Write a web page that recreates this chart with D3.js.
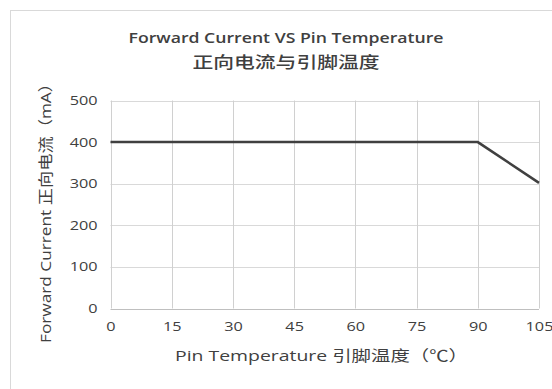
<!DOCTYPE html>
<html><head><meta charset="utf-8">
<script src="https://cdn.jsdelivr.net/npm/d3@7"></script>
<style>body{margin:0;background:#fff}</style>
</head><body>
<svg id="c" width="552" height="389"></svg>
<script>
const temps = [0, 90, 105];
const currents = [400, 400, 302];
const xTicks = [0, 15, 30, 45, 60, 75, 90, 105];
const yTicks = [0, 100, 200, 300, 400, 500];
const titleLines = ["Forward Current VS Pin Temperature", "正向电流与引脚温度"];
const xTitle = "Pin Temperature 引脚温度（℃）";
const yTitle = "Forward Current 正向电流（mA）";

const svg = d3.select("#c");
const font = "'Open Sans','Noto Sans CJK SC',sans-serif";
svg.append("rect").attr("x",10.5).attr("y",10.5).attr("width",550).attr("height",390)
  .attr("fill","#fff").attr("stroke","#d9d9d9");

const m = {l:110.5, r:539, t:100.5, b:308.5};
const x = d3.scaleLinear().domain([0,105]).range([m.l, m.r]);
const y = d3.scaleLinear().domain([0,500]).range([m.b, m.t]);

const g = svg.append("g");
g.selectAll(".hg").data(yTicks).join("line")
  .attr("x1",m.l).attr("x2",m.r).attr("y1",d=>Math.round(y(d))+0.5).attr("y2",d=>Math.round(y(d))+0.5)
  .attr("stroke",d=>d===0?"#bfbfbf":"#d9d9d9").attr("stroke-width",1);
g.selectAll(".vg").data(xTicks).join("line")
  .attr("y1",m.t).attr("y2",m.b).attr("x1",d=>Math.round(x(d))+0.5).attr("x2",d=>Math.round(x(d))+0.5)
  .attr("stroke","#d0d0d0").attr("stroke-width",1);

const xa = svg.append("g").attr("transform",`translate(0,${m.b})`)
  .call(d3.axisBottom(x).tickValues(xTicks).tickSize(0).tickPadding(14));
xa.select(".domain").remove();
xa.selectAll("text").attr("font-family",font).attr("font-size",12.5).attr("fill","#404040")
  .attr("transform","scale(1.3,1)");

const ya = svg.append("g").attr("transform",`translate(${m.l},0)`)
  .call(d3.axisLeft(y).tickValues(yTicks).tickSize(0).tickPadding(12));
ya.select(".domain").remove();
ya.selectAll("text").attr("font-family",font).attr("font-size",12.5).attr("fill","#404040")
  .attr("x",-13/1.3).attr("transform","scale(1.3,1)");

const line = d3.line().x((d,i)=>x(temps[i])).y(d=>y(d));
svg.append("path").datum(currents).attr("d",line).attr("fill","none")
  .attr("stroke","#404040").attr("stroke-width",2.5);

const titleLen = [315, 187];
svg.selectAll(".tt").data(titleLines).join("text")
  .attr("x",(d,i)=>286-titleLen[i]/2).attr("y",(d,i)=>43+i*25)
  .attr("font-family",font).attr("font-size",(d,i)=>i?16:14).attr("font-weight",(d,i)=>i?500:600).attr("fill","#404040")
  .attr("textLength",(d,i)=>titleLen[i]).attr("lengthAdjust","spacingAndGlyphs")
  .text(d=>d);

svg.append("text").attr("x",175).attr("y",361)
  .attr("font-family",font).attr("font-size",15).attr("fill","#404040")
  .attr("textLength",293).attr("lengthAdjust","spacingAndGlyphs").text(xTitle);
svg.append("text").attr("transform",`translate(51,343) rotate(-90)`)
  .attr("font-family",font).attr("font-size",15).attr("fill","#404040")
  .attr("textLength",268).attr("lengthAdjust","spacingAndGlyphs").text(yTitle);
</script>
</body></html>
